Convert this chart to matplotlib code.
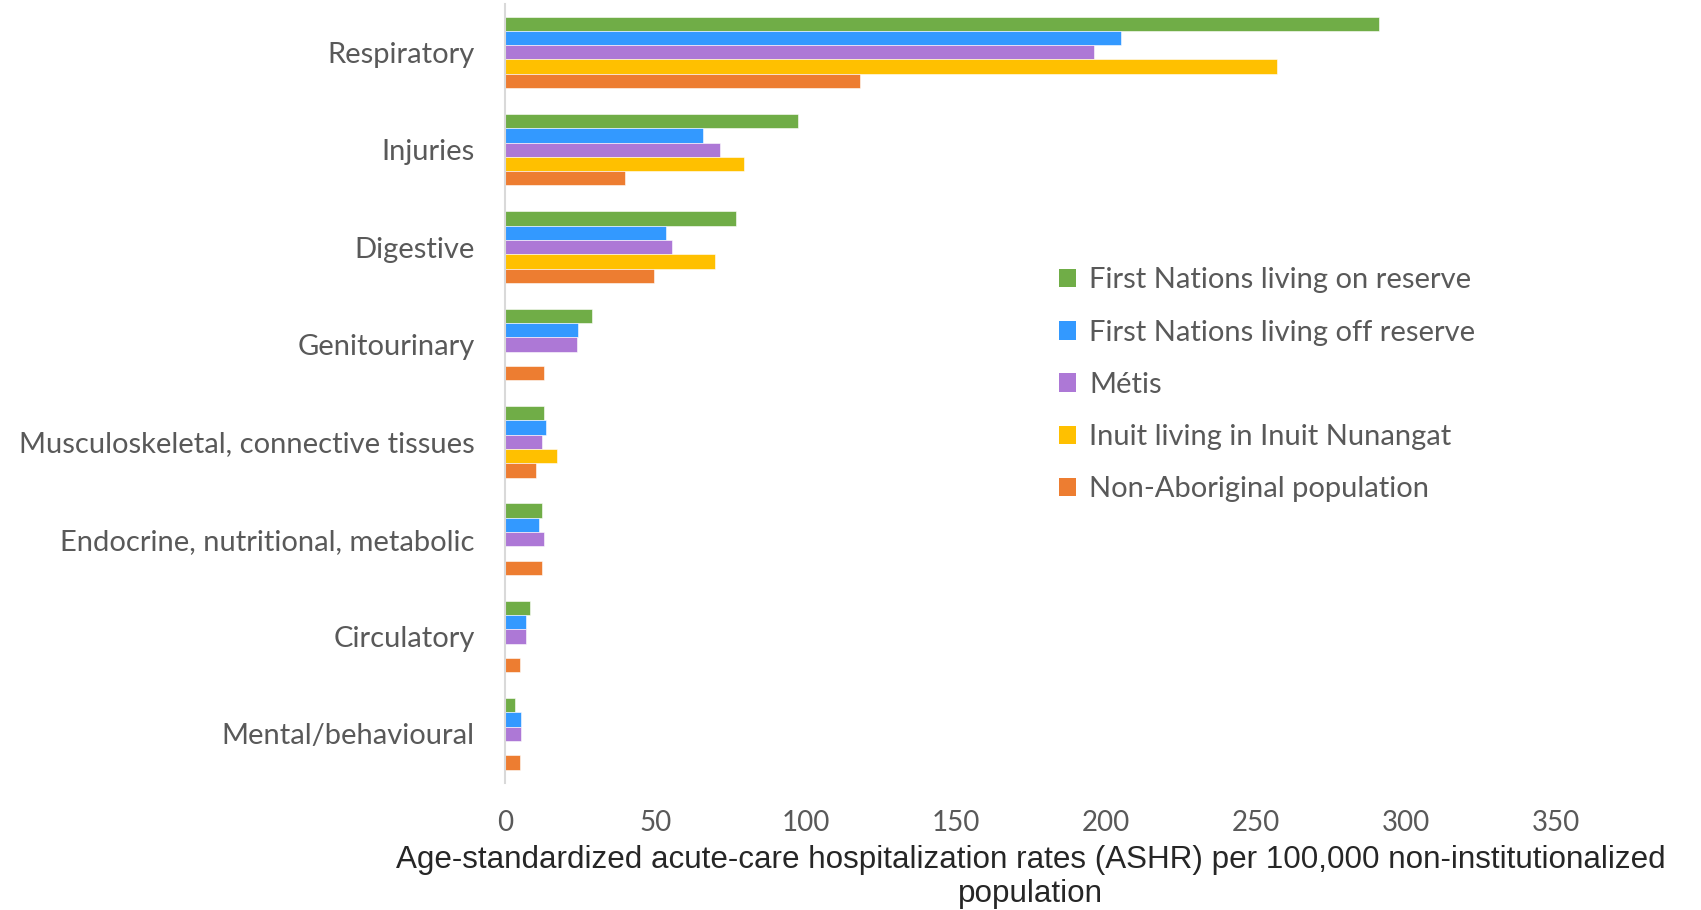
import numpy as np
import matplotlib
matplotlib.use('Agg')
import matplotlib.pyplot as plt
from matplotlib.patches import Patch

categories = ['Respiratory', 'Injuries', 'Digestive', 'Genitourinary',
              'Musculoskeletal, connective tissues', 'Endocrine, nutritional, metabolic',
              'Circulatory', 'Mental/behavioural']
series_names = ['First Nations living on reserve', 'First Nations living off reserve',
                'Métis', 'Inuit living in Inuit Nunangat', 'Non-Aboriginal population']
on_reserve = [291, 97.5, 77, 28.8, 12.8, 12.1, 8.1, 3.4]
off_reserve = [205, 66, 53.5, 24.1, 13.6, 11.4, 6.8, 5.4]
metis = [196, 71.5, 55.5, 24.0, 12.1, 12.8, 6.8, 5.4]
inuit = [257, 79.5, 70, np.nan, 17.4, np.nan, np.nan, np.nan]
non_aboriginal = [118, 40, 49.5, 12.8, 10.1, 12.1, 4.8, 4.8]
xticks = [0, 50, 100, 150, 200, 250, 300, 350]

colors = ['#70AD47', '#3399FF', '#AD78D6', '#FFC000', '#ED7D31']
series = [on_reserve, off_reserve, metis, inuit, non_aboriginal]

plt.rcParams['font.family'] = ['Lato', 'DejaVu Sans']

fig = plt.figure(figsize=(17.01, 9.10), dpi=100)
ax = fig.add_axes([0.297, 0.140, 0.618, 0.856])

y = np.arange(len(categories))
h = 0.147
for i, (vals, col) in enumerate(zip(series, colors)):
    offs = (i - 2) * h
    ax.barh(y + offs, vals, h, color=col, edgecolor='white', linewidth=0.4)

ax.set_ylim(len(categories) - 0.5, -0.5)
ax.set_xlim(0, 350)
ax.set_xticks(xticks)
ax.set_xticklabels([str(t) for t in xticks])
ax.set_yticks(y)
ax.set_yticklabels(categories)
ax.tick_params(axis='both', length=0, labelcolor='#595959')
ax.tick_params(axis='y', pad=22, labelsize=21)
ax.tick_params(axis='x', pad=20, labelsize=20)

for s in ['top', 'right', 'bottom']:
    ax.spines[s].set_visible(False)
ax.spines['left'].set_color('#D9D9D9')
ax.spines['left'].set_linewidth(1.5)

ax.set_xlabel('Age-standardized acute-care hospitalization rates (ASHR) per 100,000 non-institutionalized\npopulation',
              family='Liberation Sans', fontsize=22.6, color='#262626', labelpad=6, linespacing=1.2)

handles = [Patch(facecolor=c, edgecolor='none') for c in colors]
leg = fig.legend(handles, series_names, loc='upper left', bbox_to_anchor=(0.607, 0.735),
                 frameon=False, fontsize=21, handlelength=0.6, handleheight=0.6,
                 handletextpad=0.45, labelspacing=0.9)
for t in leg.get_texts():
    t.set_color('#595959')

plt.savefig('out.png', dpi=100)
